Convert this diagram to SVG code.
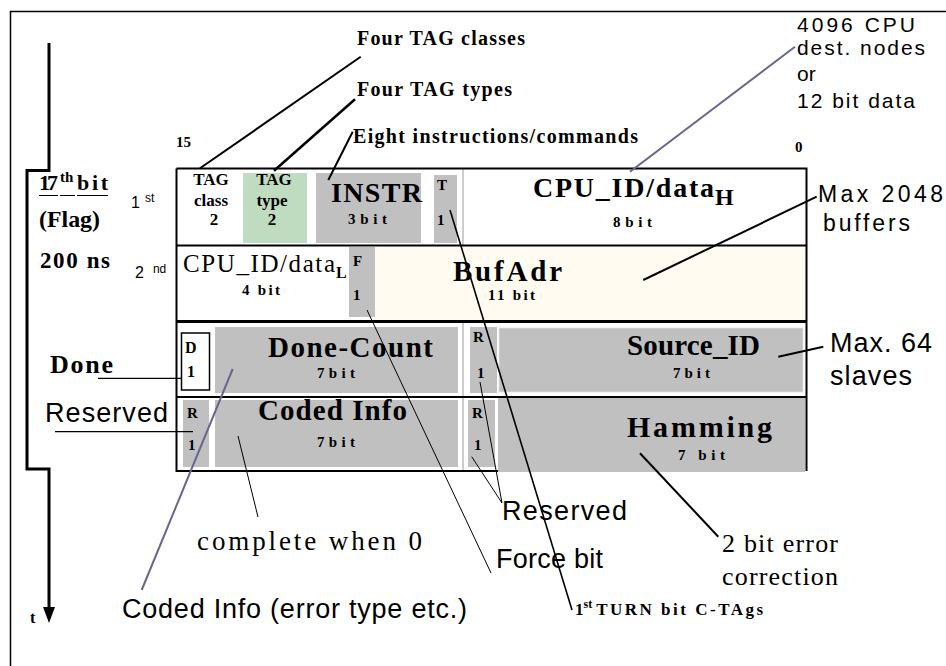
<svg xmlns="http://www.w3.org/2000/svg" width="946" height="666" viewBox="0 0 946 666">
  <style>
    .sb { font-family: "Liberation Serif", "Times New Roman", serif; font-weight: bold; fill: #000; }
    .sr { font-family: "Liberation Serif", "Times New Roman", serif; fill: #000; }
    .ss { font-family: "Liberation Sans", Arial, sans-serif; fill: #000; }
    .gray { fill: #c0c0c0; }
    .green { fill: #c0dcc0; }
    .cream { fill: #fffbf0; }
    .ln { fill: none; stroke: #000; }
    .blue { fill: none; stroke: #66668f; stroke-width: 2; }
    .div { stroke: #9a9a9a; stroke-width: 1; }
  </style>

  <rect x="0" y="0" width="946" height="666" fill="#fff"/>

  <!-- page frame -->
  <path d="M10.5 666 V11.5 H946" class="ln" stroke-width="1.5"/>

  <!-- time axis with flag step -->
  <g id="timeline">
    <path d="M49 43 V170.5 H27 V469 H49 V610" class="ln" stroke-width="3"/>
    <path d="M27 170.5 V469" class="ln" stroke-width="1.5"/>
    <polygon points="43,607 55,607 49,623" fill="#000"/>
    <text x="30" y="623" class="sb" font-size="16">t</text>
  </g>

  <g id="flag-label">
    <text x="39" y="190" class="sb" font-size="22" textLength="19" lengthAdjust="spacing">17</text>
    <text x="60" y="182" class="sb" font-size="15">th</text>
    <text x="77" y="190" class="sb" font-size="22" textLength="31" lengthAdjust="spacing">bit</text>
    <path d="M39 195.5 H58 M60 195.5 H75 M77 195.5 H108" class="ln" stroke-width="1.2"/>
    <text x="39" y="227" class="sb" font-size="23" textLength="61" lengthAdjust="spacingAndGlyphs">(Flag)</text>
    <text x="40" y="268" class="sb" font-size="23" textLength="70" lengthAdjust="spacing">200 ns</text>
  </g>

  <g id="word-numbers">
    <text x="131" y="208" class="ss" font-size="16">1<tspan font-size="12" dx="5" dy="-6">st</tspan></text>
    <text x="135" y="278" class="ss" font-size="16">2<tspan font-size="12" dx="9" dy="-5">nd</tspan></text>
  </g>

  <g id="bit-numbers">
    <text x="176" y="147" class="sb" font-size="15">15</text>
    <text x="795" y="152" class="sb" font-size="15">0</text>
  </g>

  <!-- word table -->
  <g id="table">
    <!-- row 1 -->
    <g id="tag-class">
      <text x="211" y="185" class="sb" font-size="17" text-anchor="middle">TAG</text>
      <text x="211" y="206" class="sb" font-size="17" text-anchor="middle">class</text>
      <text x="214" y="225" class="sb" font-size="17" text-anchor="middle">2</text>
    </g>
    <g id="tag-type">
      <rect x="243" y="173" width="64" height="70" class="green"/>
      <text x="274" y="185" class="sb" font-size="17" text-anchor="middle">TAG</text>
      <text x="272" y="206" class="sb" font-size="17" text-anchor="middle">type</text>
      <text x="272" y="225" class="sb" font-size="17" text-anchor="middle">2</text>
    </g>
    <g id="instr">
      <rect x="316" y="173" width="105" height="70" class="gray"/>
      <text x="331" y="202" class="sb" font-size="28" textLength="91" lengthAdjust="spacing">INSTR</text>
      <text x="348" y="224" class="sb" font-size="15" textLength="39" lengthAdjust="spacing">3bit</text>
    </g>
    <g id="turn-bit">
      <rect x="434" y="175" width="23" height="68" class="gray"/>
      <text x="437" y="190" class="sb" font-size="15">T</text>
      <text x="437" y="225" class="sb" font-size="15">1</text>
    </g>
    <g id="cpu-id-high">
      <text x="533" y="197" class="sb" font-size="28" textLength="181" lengthAdjust="spacing">CPU_ID/data</text>
      <text x="715" y="205" class="sb" font-size="24">H</text>
      <text x="613" y="227" class="sb" font-size="15" textLength="39" lengthAdjust="spacing">8bit</text>
    </g>

    <!-- row 2 -->
    <g id="cpu-id-low">
      <text x="183" y="272" class="sr" font-size="25" textLength="152" lengthAdjust="spacing">CPU_ID/data</text>
      <text x="336" y="278" class="sb" font-size="16">L</text>
      <text x="242" y="295" class="sb" font-size="15" textLength="38" lengthAdjust="spacing">4 bit</text>
    </g>
    <g id="force-bit">
      <rect x="349" y="247" width="26" height="70" class="gray"/>
      <text x="353" y="266" class="sb" font-size="15">F</text>
      <text x="353" y="300" class="sb" font-size="15">1</text>
    </g>
    <g id="bufadr">
      <rect x="375" y="247" width="431" height="73" class="cream"/>
      <text x="453" y="281" class="sb" font-size="29" textLength="109" lengthAdjust="spacing">BufAdr</text>
      <text x="488" y="300" class="sb" font-size="15" textLength="47" lengthAdjust="spacing">11 bit</text>
    </g>

    <!-- row 3 -->
    <g id="done-bit">
      <rect x="181.5" y="333" width="28" height="57" fill="#fff" stroke="#000" stroke-width="1.5"/>
      <text x="185" y="353" class="sb" font-size="16">D</text>
      <text x="187" y="377" class="sb" font-size="16">1</text>
    </g>
    <g id="done-count">
      <rect x="215" y="327" width="243" height="66" class="gray"/>
      <text x="268" y="357" class="sb" font-size="29" textLength="165" lengthAdjust="spacing">Done-Count</text>
      <text x="317" y="378" class="sb" font-size="15" textLength="38" lengthAdjust="spacing">7bit</text>
    </g>
    <g id="reserved-r3">
      <rect x="470" y="327" width="27" height="66" class="gray"/>
      <text x="473" y="342" class="sb" font-size="15">R</text>
      <text x="477" y="378" class="sb" font-size="15">1</text>
    </g>
    <g id="source-id">
      <rect x="498.5" y="327.5" width="305" height="65" class="gray" stroke="#f4f4f4" stroke-width="1.5"/>
      <text x="627" y="355" class="sb" font-size="29" textLength="133" lengthAdjust="spacing">Source_ID</text>
      <text x="673" y="378" class="sb" font-size="15" textLength="37" lengthAdjust="spacing">7bit</text>
    </g>

    <!-- row 4 -->
    <g id="reserved-r4a">
      <rect x="183" y="400" width="26" height="67" class="gray"/>
      <text x="187" y="418" class="sb" font-size="15">R</text>
      <text x="188" y="450" class="sb" font-size="15">1</text>
    </g>
    <g id="coded-info">
      <rect x="215" y="400" width="243" height="67" class="gray"/>
      <text x="258" y="420" class="sb" font-size="29" textLength="149" lengthAdjust="spacing">Coded Info</text>
      <text x="317" y="447" class="sb" font-size="15" textLength="38" lengthAdjust="spacing">7bit</text>
    </g>
    <g id="reserved-r4b">
      <rect x="468" y="400" width="27" height="67" class="gray"/>
      <text x="472" y="418" class="sb" font-size="15">R</text>
      <text x="474" y="450" class="sb" font-size="15">1</text>
    </g>

    <!-- table rules -->
    <path d="M463 168 V245 M463 322 V471" class="div"/>
    <path d="M176.5 168.5 H806.5 V471 M176.5 168.5 V471 H498" class="ln" stroke-width="2"/>
    <path d="M176 245.5 H807" class="ln" stroke-width="2"/>
    <path d="M176 321.5 H807" class="ln" stroke-width="3"/>
    <path d="M176 397 H807" class="ln" stroke-width="2"/>

    <g id="hamming">
      <rect x="498" y="398" width="307" height="74" class="gray"/>
      <text x="627" y="437" class="sb" font-size="30" textLength="145" lengthAdjust="spacing">Hamming</text>
      <text x="678" y="460" class="sb" font-size="15" textLength="47" lengthAdjust="spacing">7 bit</text>
    </g>
  </g>

  <!-- annotations -->
  <g id="note-tag-classes">
    <text x="357" y="45" class="sb" font-size="20" textLength="168" lengthAdjust="spacing">Four TAG classes</text>
  </g>
  <g id="note-tag-types">
    <text x="357" y="96" class="sb" font-size="20" textLength="155" lengthAdjust="spacing">Four TAG types</text>
  </g>
  <g id="note-instr">
    <text x="353" y="143" class="sb" font-size="20" textLength="285" lengthAdjust="spacing">Eight instructions/commands</text>
  </g>
  <g id="note-cpu">
    <text x="797" y="32" class="ss" font-size="21" textLength="118" lengthAdjust="spacing">4096 CPU</text>
    <text x="797" y="55" class="ss" font-size="21" textLength="128" lengthAdjust="spacing">dest. nodes</text>
    <text x="797" y="81" class="ss" font-size="21">or</text>
    <text x="797" y="108" class="ss" font-size="21" textLength="118" lengthAdjust="spacing">12 bit data</text>
  </g>
  <g id="note-buffers">
    <text x="818" y="202" class="ss" font-size="23" textLength="125" lengthAdjust="spacing">Max 2048</text>
    <text x="823" y="231" class="ss" font-size="23" textLength="87" lengthAdjust="spacing">buffers</text>
  </g>
  <g id="note-slaves">
    <text x="830" y="352" class="ss" font-size="27" textLength="102" lengthAdjust="spacing">Max. 64</text>
    <text x="830" y="385" class="ss" font-size="27" textLength="82" lengthAdjust="spacing">slaves</text>
  </g>
  <g id="note-done">
    <text x="50" y="373" class="sb" font-size="26" textLength="63" lengthAdjust="spacing">Done</text>
  </g>
  <g id="note-reserved-left">
    <text x="45" y="422" class="ss" font-size="27" textLength="123" lengthAdjust="spacing">Reserved</text>
  </g>
  <g id="note-complete">
    <text x="197" y="550" class="sr" font-size="27" textLength="225" lengthAdjust="spacing">complete when 0</text>
  </g>
  <g id="note-coded-info">
    <text x="122" y="618" class="ss" font-size="27" textLength="345" lengthAdjust="spacing">Coded Info (error type etc.)</text>
  </g>
  <g id="note-reserved-right">
    <text x="502" y="520" class="ss" font-size="27" textLength="125" lengthAdjust="spacing">Reserved</text>
  </g>
  <g id="note-force">
    <text x="496" y="568" class="ss" font-size="27" textLength="107" lengthAdjust="spacing">Force bit</text>
  </g>
  <g id="note-hamming">
    <text x="722" y="552" class="sr" font-size="26" textLength="116" lengthAdjust="spacing">2 bit error</text>
    <text x="722" y="585" class="sr" font-size="26" textLength="116" lengthAdjust="spacing">correction</text>
  </g>
  <g id="note-turn">
    <text x="575" y="615" class="sb" font-size="17">1<tspan font-size="12" dy="-7">st</tspan><tspan dy="7" dx="4" textLength="167" lengthAdjust="spacing">TURN bit C-TAgs</tspan></text>
  </g>

  <!-- leader lines -->
  <g id="connectors">
    <line x1="360.7" y1="56.7" x2="200" y2="168.3" class="ln" stroke-width="2"/>
    <line x1="355" y1="99.3" x2="274" y2="170.7" class="ln" stroke-width="2.5"/>
    <line x1="352.7" y1="131.7" x2="328.3" y2="180" class="ln" stroke-width="2"/>
    <line x1="795" y1="46.7" x2="630" y2="171.7" class="blue" stroke-width="1.5"/>
    <line x1="816.7" y1="196.7" x2="643.3" y2="280" class="ln" stroke-width="2"/>
    <line x1="823.3" y1="346.7" x2="778.3" y2="356.7" class="ln" stroke-width="2"/>
    <line x1="98" y1="378.3" x2="181" y2="378.3" class="ln" stroke-width="1.2"/>
    <line x1="55" y1="431.7" x2="193" y2="431.7" class="ln" stroke-width="1.2"/>
    <line x1="232.7" y1="369" x2="141.7" y2="590" class="blue"/>
    <line x1="238" y1="436" x2="258" y2="517" class="ln" stroke-width="1"/>
    <line x1="367" y1="310" x2="491" y2="573" class="ln" stroke-width="1"/>
    <line x1="450" y1="210" x2="572" y2="610" class="ln" stroke-width="1.6"/>
    <line x1="480" y1="382" x2="502" y2="503" class="ln" stroke-width="1"/>
    <line x1="471.7" y1="456.7" x2="502" y2="503" class="ln" stroke-width="1"/>
    <line x1="640" y1="453.3" x2="718.3" y2="536.7" class="ln" stroke-width="2"/>
  </g>
</svg>
